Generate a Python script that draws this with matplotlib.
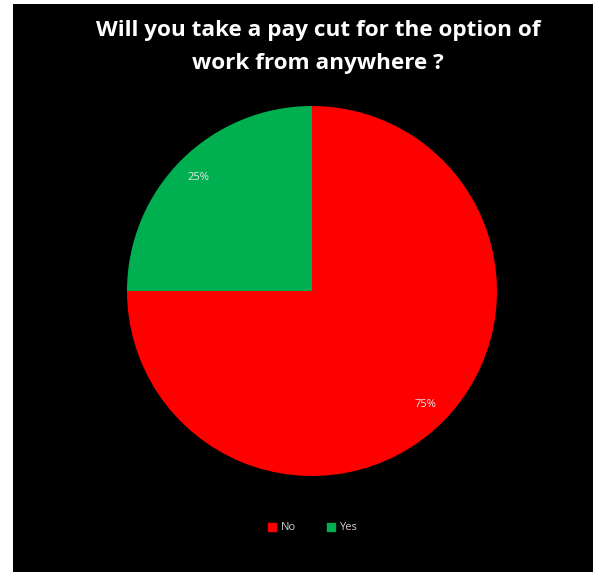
import matplotlib
matplotlib.use("Agg")
import matplotlib.pyplot as plt
from matplotlib.patches import Rectangle
from matplotlib.lines import Line2D

labels = ["No", "Yes"]
values = [75, 25]
colors = ["#FF0000", "#00B050"]
title = "Will you take a pay cut for the option of\nwork from anywhere ?"

W, H = 593, 572
fig = plt.figure(figsize=(W / 100, H / 100), dpi=100, facecolor="white")
# black chart area
fig.patches.append(Rectangle((13 / W, 0), 1 - 13 / W, 1 - 4 / H, transform=fig.transFigure,
                             facecolor="black", edgecolor="none", zorder=-10))

R = 185
cx, cy = 312, H - 291
ax = fig.add_axes([(cx - R) / W, (cy - R) / H, 2 * R / W, 2 * R / H])
ax.set_zorder(5)
ax.set_facecolor("none")
wedges, texts = ax.pie(values, colors=colors, startangle=90, counterclock=False,
                       labels=[f"{v}%" for v in values], labeldistance=0.87,
                       wedgeprops=dict(linewidth=0),
                       textprops=dict(color="#E6E6E6", fontsize=8, family="Open Sans"))
for t in texts:
    t.set_ha("center")
    t.set_va("center")
ax.set_xlim(-1, 1)
ax.set_ylim(-1, 1)
ax.set_aspect("equal")
ax.axis("off")

fig.text(318 / W, 1 - 47 / H, title, ha="center", va="center", color="white",
         fontsize=16.2, fontweight="bold", family="Open Sans", linespacing=1.7,
         zorder=6)

handles = [Line2D([], [], marker="s", linestyle="none", markersize=6,
                  markerfacecolor=c, markeredgecolor=c) for c in colors]
leg = fig.legend(handles, labels, loc="center", bbox_to_anchor=(312 / W, 1 - 528 / H),
                 ncol=2, frameon=False, handletextpad=0.3,
                 columnspacing=2.6, handlelength=1.0,
                 prop=dict(family="Open Sans", size=8))
leg.set_zorder(6)
for t in leg.get_texts():
    t.set_color("#D0D0D0")

fig.savefig("out.png", dpi=100, facecolor="white")
